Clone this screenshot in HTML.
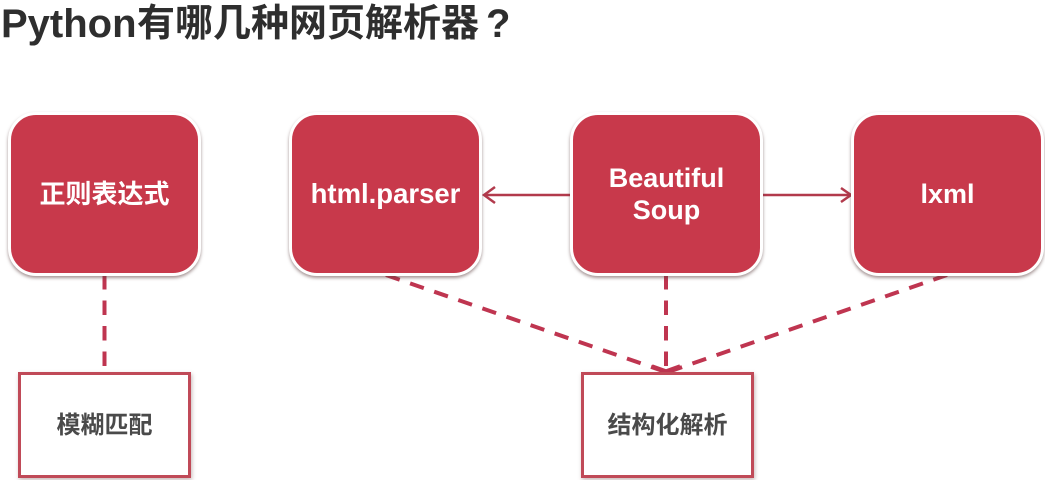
<!DOCTYPE html>
<html><head><meta charset="utf-8">
<style>
html,body{margin:0;padding:0;background:#fff;}
body{width:1045px;height:480px;overflow:hidden;position:relative;font-family:"Liberation Sans","Noto Sans CJK SC",sans-serif;}
.t{position:absolute;top:2px;line-height:44px;font-weight:bold;color:#2e2e2e;white-space:nowrap;}
.r{position:absolute;box-sizing:border-box;background:#c8394b;border:3px solid #fff;border-radius:28px;box-shadow:0 2px 3px rgba(90,60,60,.55);color:#fff;font-weight:bold;display:flex;align-items:center;justify-content:center;text-align:center;font-size:27px;line-height:32px;padding-bottom:1px;}
.b{position:absolute;box-sizing:border-box;background:#fff;border:3px solid #c04a58;box-shadow:1px 2px 4px rgba(120,80,80,.4);color:#4a4a4a;font-weight:bold;display:flex;align-items:center;justify-content:center;font-size:24px;padding-bottom:6px;}
svg{position:absolute;left:0;top:0;}
</style></head><body>
<div class="t" style="left:1px;font-size:40px;">Python</div>
<div class="t" style="left:137px;font-size:38px;">有哪几种网页解析器</div>
<div class="t" style="left:486px;font-size:40px;">?</div>
<svg width="1045" height="480">
<g stroke="#bf3550" stroke-width="4" fill="none" stroke-dasharray="14.5 11">
<line x1="104.5" y1="275" x2="104.5" y2="372"/>
<line x1="386" y1="275" x2="666" y2="372"/>
<line x1="666" y1="275" x2="666" y2="372"/>
<line x1="947" y1="275" x2="668" y2="372"/>
</g>
<g stroke="#bf3550" stroke-width="3.5" fill="none">
<polyline points="652,366 666,371 680,366"/>
</g>
<g stroke="#b23a4c" stroke-width="2.5" fill="none">
<line x1="484" y1="195" x2="572" y2="195"/>
<polyline points="495,187 484,195 495,203"/>
<line x1="762" y1="195" x2="851" y2="195"/>
<polyline points="841,188 851,195 841,202"/>
</g>
</svg>
<div class="r" style="left:8px;top:112px;width:193px;height:164px;font-size:26px;">正则表达式</div>
<div class="r" style="left:289px;top:112px;width:193px;height:164px;font-size:27.5px;">html.parser</div>
<div class="r" style="left:570px;top:112px;width:193px;height:164px;">Beautiful<br>Soup</div>
<div class="r" style="left:851px;top:112px;width:193px;height:164px;">lxml</div>
<div class="b" style="left:18px;top:372px;width:173px;height:106px;">模糊匹配</div>
<div class="b" style="left:581px;top:372px;width:173px;height:106px;">结构化解析</div>
</body></html>
